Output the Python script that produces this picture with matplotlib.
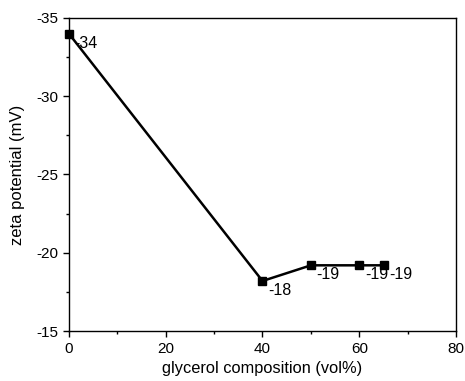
import matplotlib
matplotlib.use("Agg")
import matplotlib.pyplot as plt
from matplotlib.ticker import MultipleLocator

plt.rcParams['font.family'] = ['Liberation Sans', 'DejaVu Sans']
plt.rcParams['axes.unicode_minus'] = False

glycerol = [0, 40, 50, 60, 65]
zeta = [-34.0, -18.2, -19.2, -19.2, -19.2]
point_labels = ["-34", "-18", "-19", "-19", "-19"]
xticks = [0, 20, 40, 60, 80]
yticks = [-35, -30, -25, -20, -15]

fig = plt.figure(figsize=(4.65, 3.81), dpi=100)
ax = fig.add_axes([0.148, 0.131, 0.833, 0.822])
ax.plot(glycerol, zeta, color='black', lw=1.8, marker='s', ms=5.5, clip_on=False)
for x, y, t in zip(glycerol, zeta, point_labels):
    ax.annotate(t, (x, y), xytext=(4, -1.5), textcoords='offset points',
                ha='left', va='top', fontsize=11.5)
ax.set_xlim(0, 80)
ax.set_ylim(-35, -15)
ax.invert_yaxis()
ax.set_xticks(xticks)
ax.set_yticks(yticks)
ax.xaxis.set_minor_locator(MultipleLocator(10))
ax.yaxis.set_minor_locator(MultipleLocator(2.5))
ax.tick_params(which='major', direction='out', length=4, width=1, labelsize=11)
ax.tick_params(which='minor', direction='out', length=2.5, width=1)
for s in ax.spines.values():
    s.set_linewidth(1)
ax.set_xlabel("glycerol composition (vol%)", fontsize=11.8, labelpad=4)
ax.set_ylabel("zeta potential (mV)", fontsize=12, labelpad=8)
fig.savefig("out.png", dpi=100)
